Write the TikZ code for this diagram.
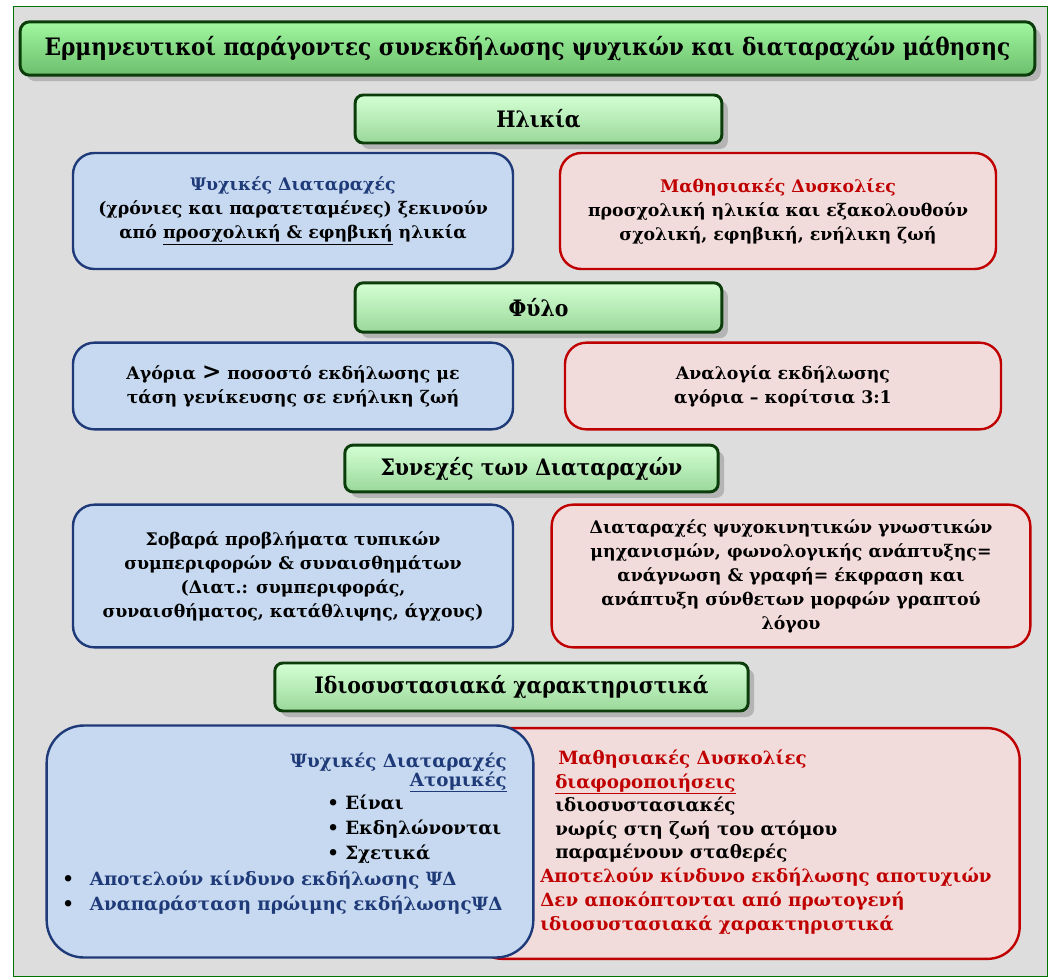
\documentclass[tikz,border=0pt]{standalone}
\usepackage{fontspec}
\setmainfont{DejaVu Serif}
\newfontfamily\condfont{DejaVu Serif Condensed}
\usepackage{tikz}
\usetikzlibrary{shadows,positioning}
\definecolor{hdgreen}{HTML}{0B3D0B}
\definecolor{navy}{HTML}{1F3A78}
\definecolor{lightblue}{HTML}{C6D9F0}
\definecolor{darkred}{HTML}{C00000}
\definecolor{lightred}{HTML}{F2DCDB}
\definecolor{bggray}{HTML}{DDDDDD}
\definecolor{titletop}{HTML}{A0F8A0}
\definecolor{titlebot}{HTML}{6CBE6C}
\definecolor{headtop}{HTML}{D4FFD4}
\definecolor{headbot}{HTML}{9AD89A}

\begin{document}
\begin{tikzpicture}[x=0.75pt,y=-0.75pt,
		title node/.style={rectangle,rounded corners=7pt,draw=hdgreen,line width=2.2pt,
			top color=titletop,bottom color=titlebot,
			drop shadow={shadow xshift=4.5pt,shadow yshift=-4.5pt,fill=black!45},
			font=\condfont\fontsize{18}{22}\selectfont\bfseries},
		head node/.style={rectangle,rounded corners=6pt,draw=hdgreen,line width=2.2pt,
			top color=headtop,bottom color=headbot,
			drop shadow={shadow xshift=4.5pt,shadow yshift=-4.5pt,fill=black!45},
			font=\condfont\fontsize{17}{20}\selectfont\bfseries},
		blue node/.style={rectangle,rounded corners=16pt,draw=navy,line width=1.8pt,
			fill=lightblue,align=center,font=\fontsize{13}{18}\selectfont\bfseries},
		red node/.style={rectangle,rounded corners=16pt,draw=darkred,line width=1.8pt,
			fill=lightred,align=center,font=\fontsize{13}{18}\selectfont\bfseries},
		text node/.style={inner sep=0pt,font=\fontsize{13.7}{19}\selectfont\bfseries}]
	
	\useasboundingbox (0,0) rectangle (1057,979);
	\node[rectangle,draw=green!45!black,line width=0.8pt,fill=bggray,
		minimum width=776pt,minimum height=728pt] (frame) at (530.5,491.5) {};
	
	\node[title node,minimum width=761pt,minimum height=40pt] (title) at (527.5,48.5)
		{Ερμηνευτικοί παράγοντες συνεκδήλωσης ψυχικών και διαταραχών μάθησης};
	
	% age
	\node[head node,minimum width=275pt,minimum height=36pt] (age) at (538.5,119) {Ηλικία};
	\node[blue node,minimum width=330pt,minimum height=87pt] (psyAge) at (293,211)
		{\textcolor{navy}{Ψυχικές Διαταραχές}\\(χρόνιες και παρατεταμένες) ξεκινούν\\από \underline{προσχολική \& εφηβική} ηλικία};
	\node[red node,minimum width=327pt,minimum height=87pt] (learnAge) at (778,211)
		{\textcolor{darkred}{Μαθησιακές Δυσκολίες}\\προσχολική ηλικία και εξακολουθούν\\σχολική, εφηβική, ενήλικη ζωή};
	
	% sex
	\node[head node,minimum width=275pt,minimum height=37pt] (sex) at (538.5,307.5) {Φύλο};
	\node[blue node,minimum width=330pt,minimum height=65pt] (psySex) at (293,386)
		{Αγόρια {\LARGE >} ποσοστό εκδήλωσης με\\τάση γενίκευσης σε ενήλικη ζωή};
	\node[red node,minimum width=327pt,minimum height=65pt] (learnSex) at (783,386)
		{Αναλογία εκδήλωσης\\αγόρια – κορίτσια 3:1};
	
	% continuum
	\node[head node,minimum width=280pt,minimum height=35pt] (cont) at (531.5,468.5) {Συνεχές των Διαταραχών};
	\node[blue node,minimum width=330pt,minimum height=107pt] (psyCont) at (293,576)
		{Σοβαρά προβλήματα τυπικών\\συμπεριφορών \& συναισθημάτων\\(Διατ.: συμπεριφοράς,\\συναισθήματος, κατάθλιψης, άγχους)};
	\node[red node,minimum width=359pt,minimum height=107pt] (learnCont) at (791,576)
		{Διαταραχές ψυχοκινητικών γνωστικών\\μηχανισμών, φωνολογικής ανάπτυξης=\\ανάγνωση \& γραφή= έκφραση και\\ανάπτυξη σύνθετων μορφών γραπτού\\λόγου};
	
	% idiosyncratic
	\node[head node,minimum width=355pt,minimum height=36pt] (idio) at (511.5,687) {Ιδιοσυστασιακά χαρακτηριστικά};
	\node[red node,rounded corners=24pt,minimum width=412pt,minimum height=173pt] (learnIdio) at (745,843.5) {};
	\node[blue node,rounded corners=28pt,minimum width=365pt,minimum height=174pt] (psyIdio) at (290,841.5) {};
	
	\node[text node,anchor=base east,text=navy] (psyHead) at (507,767) {Ψυχικές Διαταραχές};
	\node[text node,anchor=base east,text=navy] (psyInd) at (507,786) {\underline{Ατομικές}};
	\node[text node,anchor=base west] (psyA) at (327,809) {• Είναι};
	\node[text node,anchor=base west] (psyB) at (327,834) {• Εκδηλώνονται};
	\node[text node,anchor=base west] (psyC) at (327,859) {• Σχετικά};
	\node[text node,anchor=base west] (psyD) at (62,885) {•\hspace{12pt}\textcolor{navy}{Αποτελούν κίνδυνο εκδήλωσης ΨΔ}};
	\node[text node,anchor=base west] (psyE) at (62,910) {•\hspace{12pt}\textcolor{navy}{Αναπαράσταση πρώιμης εκδήλωσηςΨΔ}};
	
	\node[text node,anchor=base west,text=darkred] (learnHead) at (558,764) {Μαθησιακές Δυσκολίες};
	\node[text node,anchor=base west,text=darkred] (learnDiff) at (555,788) {\underline{διαφοροποιήσεις}};
	\node[text node,anchor=base west] (learnA) at (555,811) {ιδιοσυστασιακές};
	\node[text node,anchor=base west] (learnB) at (555,835) {νωρίς στη ζωή του ατόμου};
	\node[text node,anchor=base west] (learnC) at (555,858) {παραμένουν σταθερές};
	\node[text node,anchor=base west,text=darkred] (learnD) at (540,882) {Αποτελούν κίνδυνο εκδήλωσης αποτυχιών};
	\node[text node,anchor=base west,text=darkred] (learnE) at (540,906) {Δεν αποκόπτονται από πρωτογενή};
	\node[text node,anchor=base west,text=darkred] (learnF) at (540,930) {ιδιοσυστασιακά χαρακτηριστικά};
	
\end{tikzpicture}
\end{document}
